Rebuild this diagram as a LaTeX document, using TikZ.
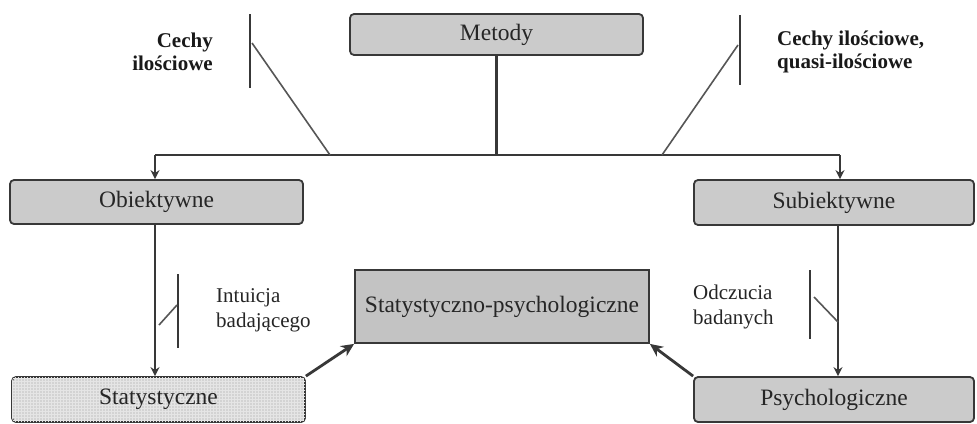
\documentclass[tikz,border=0pt]{standalone}
\usepackage{fontspec}
\setmainfont{Liberation Serif}
\usetikzlibrary{arrows.meta,patterns}
\definecolor{boxfill}{HTML}{CBCBCB}
\definecolor{spfill}{HTML}{C3C3C3}
\definecolor{statfill}{HTML}{D3D3D3}
\definecolor{lin}{HTML}{383838}
\begin{document}
\begin{tikzpicture}[x=1pt,y=-1pt,
  box/.style={draw=lin,line width=1.8pt,fill=boxfill,rounded corners=4pt,font=\fontsize{23.5}{27}\selectfont,text=black!85,inner sep=0pt},
  sqbox/.style={box,rounded corners=0pt},
  conn/.style={draw=lin,line width=2.2pt},
  arr/.style={conn,-{Stealth[length=9pt,width=9pt]}},
  thickarr/.style={draw=lin,line width=2.8pt,-{Stealth[length=13pt,width=12pt]}},
  bar/.style={draw=lin,line width=2pt},
  slash/.style={draw=lin!85,line width=1.6pt},
  lab/.style={font=\bfseries\fontsize{21}{23.5}\selectfont,text=black!90,inner sep=0pt},
  labn/.style={font=\fontsize{21}{25}\selectfont,text=black!85,inner sep=0pt}]
\useasboundingbox[fill=white] (0,0) rectangle (977,423);

% boxes
\node[box,minimum width=293pt,minimum height=41pt] (met) at (496.5,34.5) {Metody};
\node[box,minimum width=293pt,minimum height=44pt] (obj) at (156.5,202) {Obiektywne};
\node[box,minimum width=280pt,minimum height=45pt] (sub) at (834,202.5) {Subiektywne};
\node[box,fill=statfill,minimum width=293pt,minimum height=45pt,
      postaction={pattern=grid,pattern color=white!80!gray}] (sta) at (158.5,399.5) {};
\node[font=\fontsize{23.5}{27}\selectfont,text=black!85] (stat) at (sta) {Statystyczne};
\node[sqbox,fill=spfill,minimum width=294pt,minimum height=73pt] (sp) at (502,306.5) {Statystyczno-psychologiczne};
\node[box,minimum width=280pt,minimum height=45pt] (psy) at (834,399.5) {Psychologiczne};

% tree connectors
\coordinate (j) at (met.south |- 0,155);
\coordinate (jl) at (155,155);
\coordinate (jr) at (840,155);
\draw[conn] (met.south) -- (j);
\draw[conn] (jl) -- (jr);
\draw[arr] (jl) -- (jl |- obj.north);
\draw[arr] (jr) -- (jr |- sub.north);
\draw[arr] (obj.south -| jl) -- (jl |- sta.north);
\draw[arr] (sub.south -| 838,0) -- (838,0 |- psy.north);
\draw[thickarr] (sta.north east) -- (sp.south west);
\draw[thickarr] (psy.north west) -- (sp.south east);

% bars and slashes
\coordinate (b1t) at (250,14); \coordinate (b1b) at (250,88);
\draw[bar] (b1t) -- (b1b);
\coordinate (s1a) at (252,43); \coordinate (s1b) at (330,155);
\draw[slash] (s1a) -- (s1b);
\coordinate (b2t) at (740,15); \coordinate (b2b) at (740,85);
\draw[bar] (b2t) -- (b2b);
\coordinate (s2a) at (738,45); \coordinate (s2b) at (662,155);
\draw[slash] (s2a) -- (s2b);
\coordinate (b3t) at (178,274); \coordinate (b3b) at (178,348);
\draw[bar] (b3t) -- (b3b);
\coordinate (s3a) at (159,325); \coordinate (s3b) at (177,305);
\draw[slash] (s3a) -- (s3b);
\coordinate (b4t) at (810,270); \coordinate (b4b) at (810,339);
\draw[bar] (b4t) -- (b4b);
\coordinate (s4a) at (814,297); \coordinate (s4b) at (838,322);
\draw[slash] (s4a) -- (s4b);

% labels
\node[lab,align=right,anchor=east] (l1) at (213,52) {Cechy\\ilościowe};
\node[lab,align=left,anchor=west] (l2) at (777,52) {Cechy ilościowe,\\quasi-ilościowe};
\node[labn,align=left,anchor=west] (l3) at (216,310) {Intuicja\\badającego};
\node[labn,align=left,anchor=west] (l4) at (693,307) {Odczucia\\badanych};
\end{tikzpicture}
\end{document}
